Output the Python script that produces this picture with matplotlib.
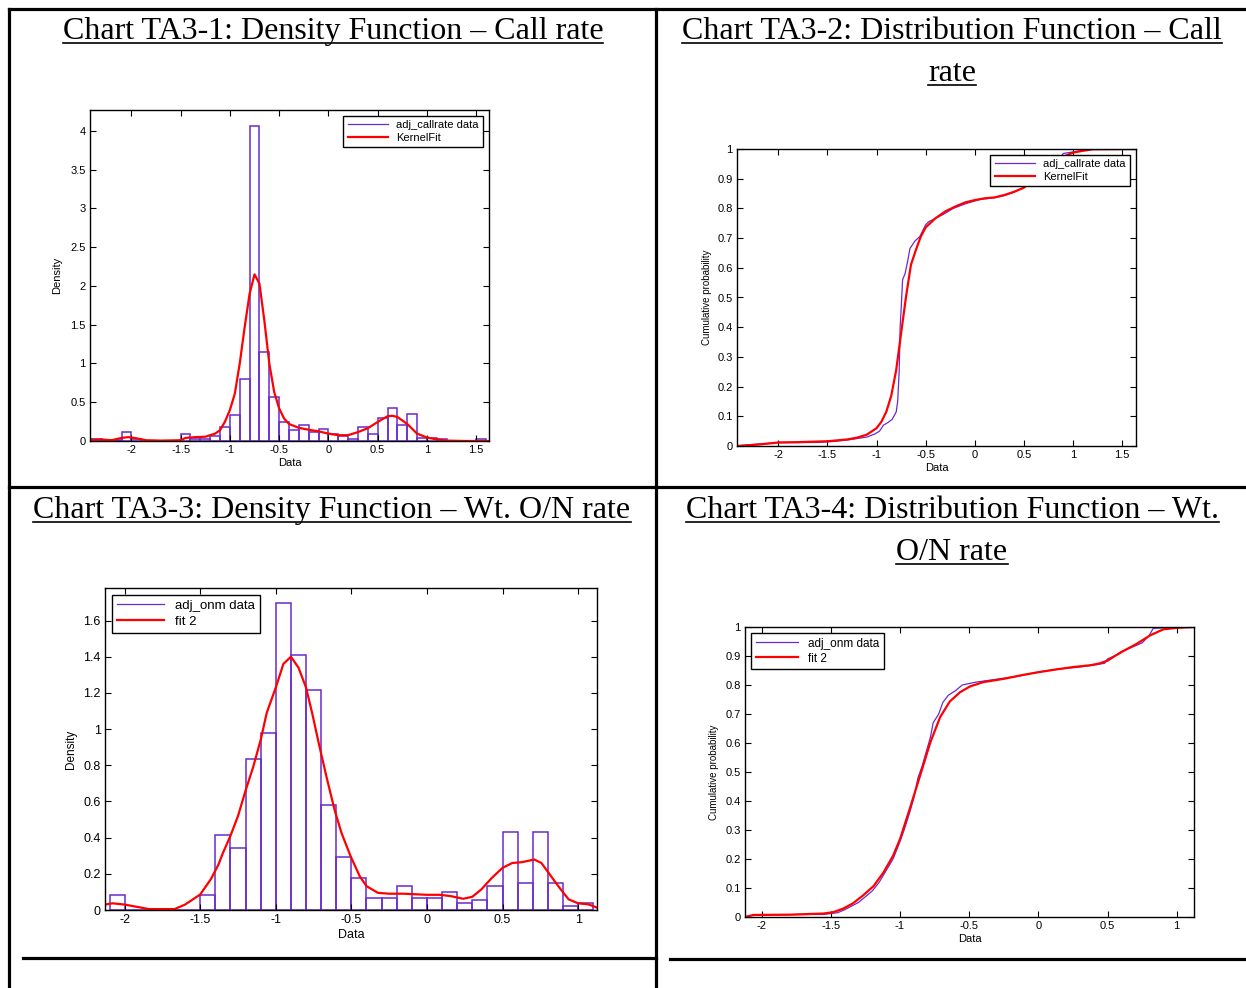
import matplotlib
matplotlib.use('Agg')
import matplotlib.pyplot as plt
from matplotlib.lines import Line2D

W, H = 1246, 988
PURPLE = '#6a2ad0'
RED = '#ff0000'

# ---- TA3-1: call rate density (histogram, bin width 0.1) ----
cr_bin_start = -2.5
cr_bin_width = 0.1
cr_hist = [0.03, 0.03, 0.01, 0.01, 0.12, 0.02, 0.0, 0.0, 0.0, 0.0,
           0.085, 0.03, 0.03, 0.06, 0.18, 0.33, 0.80, 4.06, 1.15, 0.57,
           0.245, 0.14, 0.21, 0.12, 0.15, 0.09, 0.06, 0.03, 0.18, 0.085,
           0.30, 0.43, 0.21, 0.35, 0.035, 0.04, 0.02, 0.0, 0.0, 0.0,
           0.025]
cr_kde_x = [-2.42, -2.3, -2.2, -2.1, -2.03, -1.95, -1.85, -1.7, -1.5, -1.45,
            -1.35, -1.25, -1.15, -1.1, -1.05, -1.0, -0.95, -0.9, -0.85, -0.8,
            -0.75, -0.7, -0.65, -0.6, -0.55, -0.5, -0.45, -0.4, -0.3, -0.2,
            -0.1, 0.0, 0.1, 0.2, 0.3, 0.4, 0.5, 0.6, 0.65, 0.7,
            0.8, 0.9, 1.0, 1.1, 1.2, 1.4, 1.63]
cr_kde_y = [0.01, 0.02, 0.01, 0.04, 0.05, 0.035, 0.01, 0.005, 0.01, 0.04,
            0.05, 0.055, 0.095, 0.14, 0.25, 0.40, 0.61, 1.0, 1.47, 1.9,
            2.15, 2.03, 1.55, 1.0, 0.63, 0.42, 0.29, 0.22, 0.17, 0.145,
            0.125, 0.095, 0.075, 0.075, 0.115, 0.165, 0.245, 0.32, 0.325, 0.31,
            0.22, 0.095, 0.045, 0.02, 0.005, 0.0, 0.0]

# ---- TA3-2: call rate distribution ----
cr_ecdf_x = [-2.42, -2.3, -2.02, -1.6, -1.45, -1.3, -1.2, -1.1, -1.02, -0.97,
             -0.93, -0.88, -0.84, -0.80, -0.785, -0.77, -0.76, -0.75, -0.735, -0.71,
             -0.685, -0.66, -0.61, -0.56, -0.5, -0.47, -0.41, -0.32, -0.22, -0.1,
             0.05, 0.2, 0.3, 0.4, 0.5, 0.6, 0.7, 0.8, 0.88, 0.9,
             1.0, 1.2, 1.64]
cr_ecdf_y = [0.0, 0.004, 0.011, 0.012, 0.015, 0.02, 0.025, 0.03, 0.04, 0.05,
             0.07, 0.08, 0.09, 0.115, 0.15, 0.25, 0.40, 0.46, 0.56, 0.58,
             0.62, 0.665, 0.69, 0.705, 0.745, 0.755, 0.765, 0.78, 0.80, 0.815,
             0.83, 0.836, 0.843, 0.855, 0.87, 0.90, 0.925, 0.955, 0.975, 0.985,
             0.99, 1.0, 1.0]
cr_cdf_x = [-2.42, -2.2, -2.05, -2.0, -1.8, -1.5, -1.3, -1.2, -1.1, -1.0,
            -0.95, -0.9, -0.85, -0.8, -0.75, -0.7, -0.65, -0.6, -0.55, -0.5,
            -0.4, -0.3, -0.2, -0.1, 0.0, 0.1, 0.2, 0.3, 0.4, 0.5,
            0.6, 0.7, 0.8, 0.9, 1.0, 1.1, 1.2, 1.64]
cr_cdf_y = [0.0, 0.005, 0.01, 0.012, 0.013, 0.016, 0.022, 0.028, 0.038, 0.06,
            0.082, 0.116, 0.17, 0.256, 0.38, 0.503, 0.61, 0.66, 0.705, 0.736,
            0.767, 0.79, 0.806, 0.82, 0.828, 0.834, 0.837, 0.845, 0.856, 0.87,
            0.898, 0.924, 0.952, 0.974, 0.988, 0.994, 0.999, 1.0]

# ---- TA3-3: weighted O/N rate density ----
onm_bin_start = -2.1
onm_bin_width = 0.1
onm_hist = [0.084, 0.0, 0.0, 0.0, 0.0, 0.0,
            0.084, 0.416, 0.341, 0.833, 0.98, 1.695, 1.41, 1.218, 0.578, 0.294,
            0.176, 0.068, 0.068, 0.134, 0.068, 0.068, 0.099, 0.039, 0.053, 0.134,
            0.433, 0.147, 0.433, 0.147, 0.022, 0.039]
onm_fit_x = [-2.13, -2.08, -2.0, -1.89, -1.84, -1.67, -1.6, -1.5, -1.43, -1.38,
             -1.35, -1.3, -1.25, -1.2, -1.15, -1.1, -1.06, -1.0, -0.95, -0.9,
             -0.85, -0.8, -0.76, -0.71, -0.66, -0.61, -0.565, -0.505, -0.445, -0.4,
             -0.325, -0.25, -0.156, 0.0, 0.084, 0.156, 0.24, 0.3, 0.36, 0.43,
             0.5, 0.565, 0.625, 0.71, 0.757, 0.805, 0.877, 0.937, 1.0, 1.07, 1.125]
onm_fit_y = [0.03, 0.037, 0.03, 0.013, 0.005, 0.005, 0.03, 0.086, 0.17, 0.25,
             0.315, 0.41, 0.52, 0.66, 0.79, 0.94, 1.09, 1.23, 1.36, 1.40,
             1.34, 1.23, 1.09, 0.90, 0.72, 0.55, 0.425, 0.297, 0.187, 0.132,
             0.095, 0.09, 0.09, 0.084, 0.084, 0.077, 0.062, 0.073, 0.114, 0.178,
             0.233, 0.26, 0.264, 0.279, 0.26, 0.205, 0.123, 0.059, 0.037, 0.031, 0.013]

# ---- TA3-4: weighted O/N rate distribution ----
onm_ecdf_x = [-2.12, -2.05, -1.55, -1.45, -1.4, -1.3, -1.25, -1.2, -1.15, -1.1,
              -1.05, -1.0, -0.97, -0.93, -0.9, -0.87, -0.84, -0.81, -0.78, -0.76,
              -0.72, -0.69, -0.65, -0.6, -0.55, -0.5, -0.45, -0.3, -0.15, 0.0,
              0.15, 0.3, 0.42, 0.48, 0.5, 0.55, 0.6, 0.7, 0.75, 0.8,
              0.83, 0.9, 1.0, 1.125]
onm_ecdf_y = [0.0, 0.007, 0.009, 0.015, 0.025, 0.05, 0.07, 0.09, 0.12, 0.16,
              0.20, 0.26, 0.30, 0.36, 0.41, 0.48, 0.52, 0.57, 0.62, 0.67,
              0.70, 0.74, 0.765, 0.78, 0.80, 0.805, 0.81, 0.82, 0.83, 0.845,
              0.855, 0.862, 0.87, 0.875, 0.89, 0.90, 0.915, 0.935, 0.945, 0.97,
              0.995, 0.997, 1.0, 1.0]
onm_cdf_x = [-2.12, -2.06, -1.8, -1.55, -1.48, -1.41, -1.34, -1.27, -1.19, -1.12,
             -1.05, -1.0, -0.93, -0.855, -0.78, -0.71, -0.64, -0.566, -0.494, -0.398,
             -0.253, -0.108, 0.0, 0.133, 0.253, 0.373, 0.44, 0.5, 0.55, 0.614, 0.711,
             0.807, 0.904, 1.0, 1.125]
onm_cdf_y = [0.0, 0.007, 0.008, 0.012, 0.017, 0.029, 0.047, 0.073, 0.107, 0.153,
             0.211, 0.268, 0.372, 0.487, 0.603, 0.689, 0.743, 0.775, 0.795, 0.81,
             0.821, 0.835, 0.844, 0.854, 0.862, 0.868, 0.874, 0.884, 0.899, 0.917, 0.942,
             0.971, 0.992, 0.997, 1.0]

fig = plt.figure(figsize=(W / 100, H / 100), dpi=100)
plt.rcParams['font.family'] = ['Liberation Sans', 'DejaVu Sans']


def px_axes(x0, y0, x1, y1):
    return fig.add_axes([x0 / W, 1 - y1 / H, (x1 - x0) / W, (y1 - y0) / H])


def style(ax, fs):
    ax.tick_params(direction='in', top=True, right=True, length=4, width=0.8,
                   labelsize=fs, pad=3)
    for s in ax.spines.values():
        s.set_linewidth(1.0)


def hline(x0, x1, y):
    fig.add_artist(Line2D([x0 / W, x1 / W], [1 - y / H, 1 - y / H], color='black', lw=2.3))


def vline(x, y0, y1):
    fig.add_artist(Line2D([x / W, x / W], [1 - y0 / H, 1 - y1 / H], color='black', lw=2.3))


# table frame
hline(9, W, 9)
vline(9, 9, H)
vline(656, 9, H)
hline(9, W, 487)
hline(23, 656, 958)
hline(670, W, 959)

# titles, underlined
renderer = fig.canvas.get_renderer()
titles = [
    ("Chart TA3-1: Density Function \u2013 Call rate", 333, 39),
    ("Chart TA3-2: Distribution Function \u2013 Call", 952, 39),
    ("rate", 952, 81),
    ("Chart TA3-3: Density Function \u2013 Wt. O/N rate", 332, 518),
    ("Chart TA3-4: Distribution Function \u2013 Wt.", 952, 518),
    ("O/N rate", 952, 560),
]
for s, cx, by in titles:
    t = fig.text(cx / W, 1 - by / H, s, ha='center', va='baseline',
                 family='Liberation Serif', fontsize=23)
    bb = t.get_window_extent(renderer)
    fig.add_artist(Line2D([bb.x0 / W, bb.x1 / W], [1 - (by + 4) / H] * 2,
                          color='black', lw=1.2))

leg_kw = dict(frameon=True, fancybox=False, edgecolor='black', framealpha=1,
              borderaxespad=0.5, handlelength=3.6, labelspacing=0.25)

# panel 1
ax1 = px_axes(90, 110, 489, 441)
lefts = [cr_bin_start + i * cr_bin_width for i in range(len(cr_hist))]
ax1.bar(lefts, cr_hist, width=cr_bin_width, align='edge', fill=False,
        edgecolor=PURPLE, linewidth=1.1)
ax1.plot([], [], color=PURPLE, lw=0.9, label='adj_callrate data')
ax1.plot(cr_kde_x, cr_kde_y, color=RED, lw=1.6, label='KernelFit')
ax1.set_xlim(-2.42, 1.63)
ax1.set_ylim(0, 4.27)
ax1.set_xticks([-2, -1.5, -1, -0.5, 0, 0.5, 1, 1.5])
ax1.set_xticklabels(['-2', '-1.5', '-1', '-0.5', '0', '0.5', '1', '1.5'])
ax1.set_yticks([0, 0.5, 1, 1.5, 2, 2.5, 3, 3.5, 4])
ax1.set_yticklabels(['0', '0.5', '1', '1.5', '2', '2.5', '3', '3.5', '4'])
style(ax1, 8)
ax1.set_xlabel('Data', fontsize=8, labelpad=2)
ax1.set_ylabel('Density', fontsize=8, labelpad=6)
ax1.legend(loc='upper right', fontsize=8, **leg_kw)

# panel 2
ax2 = px_axes(737, 149, 1136, 446)
ax2.plot(cr_ecdf_x, cr_ecdf_y, color=PURPLE, lw=0.9, label='adj_callrate data')
ax2.plot(cr_cdf_x, cr_cdf_y, color=RED, lw=1.6, label='KernelFit')
ax2.set_xlim(-2.42, 1.64)
ax2.set_ylim(0, 1)
ax2.set_xticks([-2, -1.5, -1, -0.5, 0, 0.5, 1, 1.5])
ax2.set_xticklabels(['-2', '-1.5', '-1', '-0.5', '0', '0.5', '1', '1.5'])
ax2.set_yticks([i / 10 for i in range(11)])
ax2.set_yticklabels(['0', '0.1', '0.2', '0.3', '0.4', '0.5', '0.6', '0.7', '0.8', '0.9', '1'])
style(ax2, 8)
ax2.set_xlabel('Data', fontsize=8, labelpad=2)
ax2.set_ylabel('Cumulative probability', fontsize=7, labelpad=4)
ax2.legend(loc='upper right', fontsize=8, **leg_kw)

# panel 3
ax3 = px_axes(105, 588, 597, 910)
lefts = [onm_bin_start + i * onm_bin_width for i in range(len(onm_hist))]
ax3.bar(lefts, onm_hist, width=onm_bin_width, align='edge', fill=False,
        edgecolor=PURPLE, linewidth=1.1)
ax3.plot([], [], color=PURPLE, lw=0.9, label='adj_onm data')
ax3.plot(onm_fit_x, onm_fit_y, color=RED, lw=1.6, label='fit 2')
ax3.set_xlim(-2.13, 1.125)
ax3.set_ylim(0, 1.78)
ax3.set_xticks([-2, -1.5, -1, -0.5, 0, 0.5, 1])
ax3.set_xticklabels(['-2', '-1.5', '-1', '-0.5', '0', '0.5', '1'])
ax3.set_yticks([0, 0.2, 0.4, 0.6, 0.8, 1, 1.2, 1.4, 1.6])
ax3.set_yticklabels(['0', '0.2', '0.4', '0.6', '0.8', '1', '1.2', '1.4', '1.6'])
style(ax3, 9)
ax3.set_xlabel('Data', fontsize=9, labelpad=2)
ax3.set_ylabel('Density', fontsize=8.5, labelpad=5)
ax3.legend(loc='upper left', fontsize=9.5, **leg_kw)

# panel 4
ax4 = px_axes(745, 627, 1194, 917)
ax4.plot(onm_ecdf_x, onm_ecdf_y, color=PURPLE, lw=0.9, label='adj_onm data')
ax4.plot(onm_cdf_x, onm_cdf_y, color=RED, lw=1.6, label='fit 2')
ax4.set_xlim(-2.12, 1.125)
ax4.set_ylim(0, 1)
ax4.set_xticks([-2, -1.5, -1, -0.5, 0, 0.5, 1])
ax4.set_xticklabels(['-2', '-1.5', '-1', '-0.5', '0', '0.5', '1'])
ax4.set_yticks([i / 10 for i in range(11)])
ax4.set_yticklabels(['0', '0.1', '0.2', '0.3', '0.4', '0.5', '0.6', '0.7', '0.8', '0.9', '1'])
style(ax4, 8)
ax4.set_xlabel('Data', fontsize=8, labelpad=2)
ax4.set_ylabel('Cumulative probability', fontsize=7, labelpad=5)
ax4.legend(loc='upper left', fontsize=8.5, **leg_kw)

fig.savefig('out.png', dpi=100)
